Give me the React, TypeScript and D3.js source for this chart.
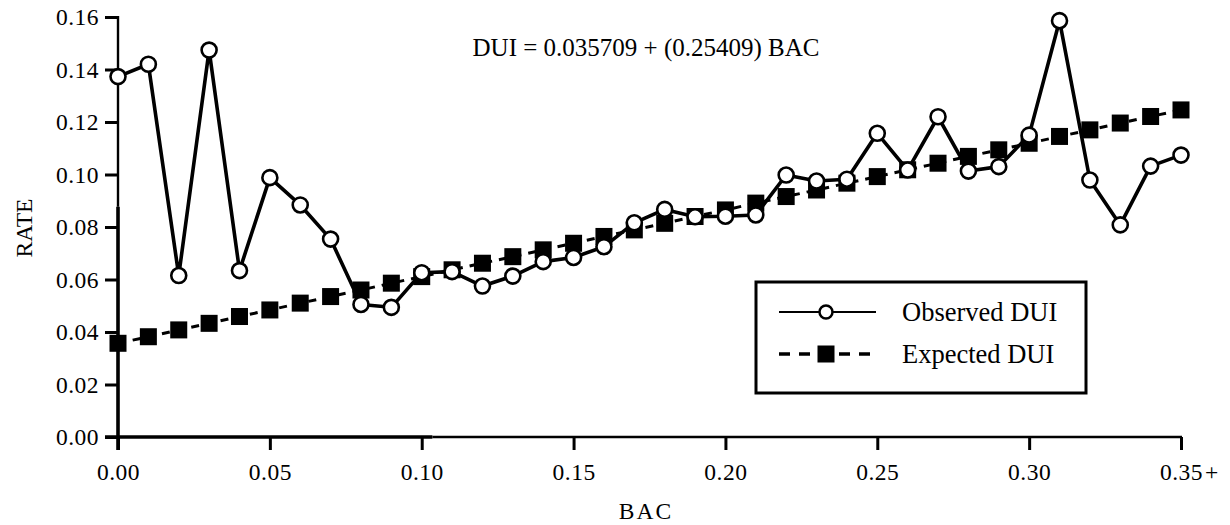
import React, { useEffect, useRef } from 'react';
import * as d3 from 'd3';

const WIDTH = 1230;
const HEIGHT = 525;

// Blood alcohol concentration categories
const bac = [
  0.0, 0.01, 0.02, 0.03, 0.04, 0.05, 0.06, 0.07, 0.08, 0.09,
  0.1, 0.11, 0.12, 0.13, 0.14, 0.15, 0.16, 0.17, 0.18, 0.19,
  0.2, 0.21, 0.22, 0.23, 0.24, 0.25, 0.26, 0.27, 0.28, 0.29,
  0.3, 0.31, 0.32, 0.33, 0.34, 0.35,
];

// Observed DUI rate per BAC level
const observed = [
  0.1373, 0.142, 0.0615, 0.1474, 0.0634, 0.0988, 0.0884, 0.0754, 0.0505, 0.0494,
  0.0626, 0.063, 0.0575, 0.0613, 0.0668, 0.0684, 0.0725, 0.0816, 0.0867, 0.0839,
  0.0841, 0.0846, 0.0998, 0.0975, 0.0982, 0.1157, 0.1017, 0.122, 0.1013, 0.103,
  0.115, 0.1586, 0.0979, 0.0808, 0.1032, 0.1074,
];

// Expected DUI rate from the fitted line
const expected = [
  0.0357, 0.0382, 0.0408, 0.0433, 0.0459, 0.0484, 0.051, 0.0535, 0.056, 0.0586,
  0.0611, 0.0637, 0.0662, 0.0687, 0.0713, 0.0738, 0.0764, 0.0789, 0.0814, 0.084,
  0.0865, 0.0891, 0.0916, 0.0941, 0.0967, 0.0992, 0.1018, 0.1043, 0.1069, 0.1094,
  0.1119, 0.1145, 0.117, 0.1196, 0.1221, 0.1246,
];

const xTicks = [0, 0.05, 0.1, 0.15, 0.2, 0.25, 0.3, 0.35];
const yTicks = [0, 0.02, 0.04, 0.06, 0.08, 0.1, 0.12, 0.14, 0.16];

const equationLabel = 'DUI = 0.035709 + (0.25409) BAC';
const seriesNames = ['Observed DUI', 'Expected DUI'];

const FONT = "'Liberation Serif', 'DejaVu Serif', 'Times New Roman', Times, serif";

export default function App() {
  const ref = useRef<SVGSVGElement>(null);

  useEffect(() => {
    const svg = d3.select(ref.current);
    svg.selectAll('*').remove();

    const x = d3.scaleLinear().domain([0, 0.35]).range([118, 1181]);
    const y = d3.scaleLinear().domain([0, 0.16]).range([437, 17]);
    const tick = 13;

    const styleText = (sel: any, size: number) =>
      sel.style('font-family', FONT).style('font-size', `${size}px`).attr('fill', '#000');

    // Y axis ticks and labels
    const gy = svg
      .append('g')
      .attr('transform', `translate(${x(0)},0)`)
      .call(
        d3.axisLeft(y).tickValues(yTicks).tickSize(tick).tickPadding(6).tickFormat(d3.format('.2f'))
      );
    gy.attr('font-family', null).attr('font-size', null);
    gy.select('.domain').remove();
    gy.selectAll('line').attr('stroke', '#000').attr('stroke-width', 3);
    styleText(gy.selectAll('text'), 23.5).attr('letter-spacing', 0.5);

    // X axis ticks and labels
    const gx = svg
      .append('g')
      .attr('transform', `translate(0,${y(0)})`)
      .call(
        d3.axisBottom(x).tickValues(xTicks).tickSize(tick).tickPadding(13).tickFormat(d3.format('.2f'))
      );
    gx.attr('font-family', null).attr('font-size', null);
    gx.select('.domain').remove();
    gx.selectAll('line').attr('stroke', '#000').attr('stroke-width', 3);
    styleText(gx.selectAll('text'), 23.5).attr('letter-spacing', 0.5);

    // Axis lines (heavier near the origin)
    const axisSeg = (x1: number, y1: number, x2: number, y2: number, w: number) =>
      svg
        .append('line')
        .attr('x1', x1)
        .attr('y1', y1)
        .attr('x2', x2)
        .attr('y2', y2)
        .attr('stroke', '#000')
        .attr('stroke-width', w);
    axisSeg(x(0) - tick, y(0), x(0.1035), y(0), 3.6);
    axisSeg(x(0.1035), y(0), x(0.35) + 1, y(0), 2.6);
    axisSeg(x(0), y(0) + tick, x(0), y(0.0877), 3.6);
    axisSeg(x(0), y(0.0877), x(0), y(0.16) - 1, 2.4);

    // "+" after the last BAC tick label
    styleText(
      svg
        .append('text')
        .attr('x', x(0.35) + 24)
        .attr('y', y(0) + tick + 13 + 16.7)
        .text('+'),
      23.5
    );

    // Axis titles
    styleText(
      svg
        .append('text')
        .attr('x', 646)
        .attr('y', 519)
        .attr('text-anchor', 'middle')
        .attr('letter-spacing', 2)
        .text('BAC'),
      23.5
    );
    styleText(
      svg
        .append('text')
        .attr('transform', 'translate(32,228) rotate(-90)')
        .attr('text-anchor', 'middle')
        .text('RATE'),
      23.5
    );

    // Regression equation
    styleText(
      svg
        .append('text')
        .attr('x', 646)
        .attr('y', 56)
        .attr('text-anchor', 'middle')
        .text(equationLabel),
      25
    );

    const expData = bac.map((b, i) => [b, expected[i]] as [number, number]);
    const obsData = bac.map((b, i) => [b, observed[i]] as [number, number]);
    const line = d3
      .line<[number, number]>()
      .x((d) => x(d[0]))
      .y((d) => y(d[1]));

    // Expected series: dashed line with filled squares
    svg
      .append('path')
      .datum(expData)
      .attr('d', line)
      .attr('fill', 'none')
      .attr('stroke', '#000')
      .attr('stroke-width', 3)
      .attr('stroke-dasharray', '8,7');
    const sq = 17;
    svg
      .append('g')
      .selectAll('rect')
      .data(expData)
      .join('rect')
      .attr('x', (d) => x(d[0]) - sq / 2)
      .attr('y', (d) => y(d[1]) - sq / 2)
      .attr('width', sq)
      .attr('height', sq)
      .attr('fill', '#000');

    // Observed series: solid line with open circles
    svg
      .append('path')
      .datum(obsData)
      .attr('d', line)
      .attr('fill', 'none')
      .attr('stroke', '#000')
      .attr('stroke-width', 3.6)
      .attr('stroke-linejoin', 'round');
    svg
      .append('g')
      .selectAll('circle')
      .data(obsData)
      .join('circle')
      .attr('cx', (d) => x(d[0]))
      .attr('cy', (d) => y(d[1]))
      .attr('r', 7.5)
      .attr('fill', '#fff')
      .attr('stroke', '#000')
      .attr('stroke-width', 2.6);

    // Legend
    const lg = svg.append('g');
    lg.append('rect')
      .attr('x', 756)
      .attr('y', 282)
      .attr('width', 330)
      .attr('height', 111)
      .attr('fill', '#fff')
      .attr('stroke', '#000')
      .attr('stroke-width', 3);
    const rowY = [312, 354];
    lg.append('line')
      .attr('x1', 779)
      .attr('x2', 876)
      .attr('y1', rowY[0])
      .attr('y2', rowY[0])
      .attr('stroke', '#000')
      .attr('stroke-width', 2);
    lg.append('circle')
      .attr('cx', 826)
      .attr('cy', rowY[0])
      .attr('r', 6.5)
      .attr('fill', '#fff')
      .attr('stroke', '#000')
      .attr('stroke-width', 2.5);
    lg.append('line')
      .attr('x1', 779)
      .attr('x2', 876)
      .attr('y1', rowY[1])
      .attr('y2', rowY[1])
      .attr('stroke', '#000')
      .attr('stroke-width', 3.5)
      .attr('stroke-dasharray', '11,9');
    lg.append('rect')
      .attr('x', 826 - 8.5)
      .attr('y', rowY[1] - 8.5)
      .attr('width', 17)
      .attr('height', 17)
      .attr('fill', '#000');
    styleText(
      lg
        .selectAll('text.name')
        .data(seriesNames)
        .join('text')
        .attr('class', 'name')
        .attr('x', 902)
        .attr('y', (_: string, i: number) => rowY[i] + 8.5)
        .text((d: string) => d),
      26.5
    );
  }, []);

  return (
    <svg
      ref={ref}
      width={WIDTH}
      height={HEIGHT}
      style={{ position: 'absolute', left: 0, top: 0, background: '#fff' }}
    />
  );
}
